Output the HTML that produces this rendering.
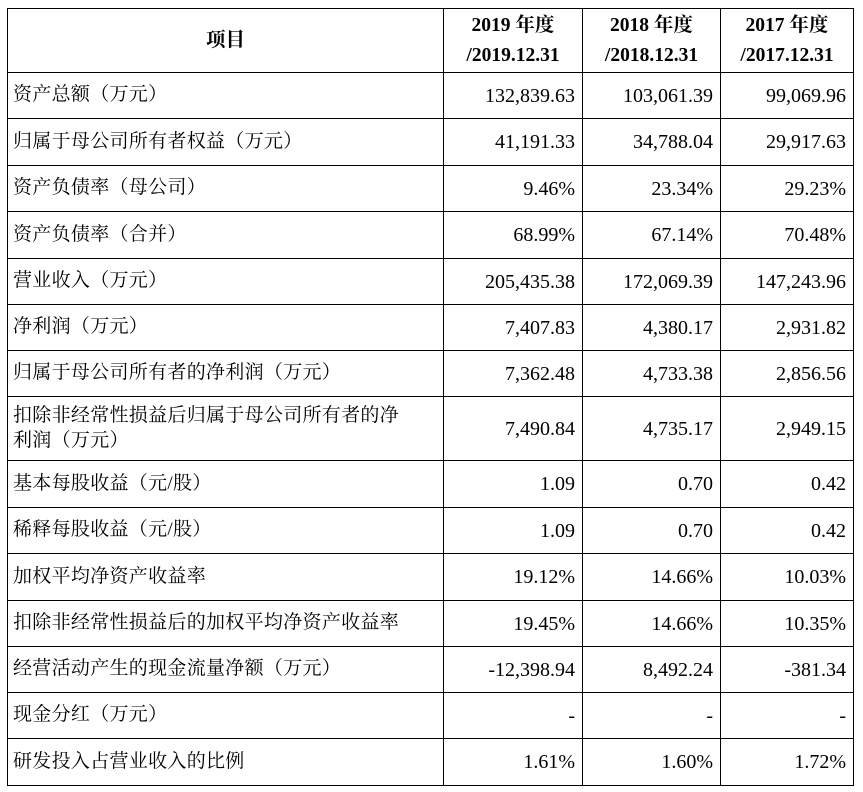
<!DOCTYPE html>
<html><head><meta charset="utf-8"><style>
body{margin:0;background:#fff;width:863px;height:792px;overflow:hidden}
table{position:absolute;left:7px;top:8px;border-collapse:collapse;font-family:"Liberation Serif","Noto Serif CJK SC",serif;color:#000;table-layout:fixed}
td{border:1.5px solid #000;padding:0 7px 0 5px;font-size:20px;text-align:right;line-height:1.3}
td.l{text-align:left;font-size:19px;letter-spacing:0.3px}
th{border:1.5px solid #000;font-size:19.5px;font-weight:bold;line-height:30px;padding:0}
</style></head><body>
<table>
<colgroup><col style="width:436px"><col style="width:139px"><col style="width:138px"><col style="width:133px"></colgroup>
<tr style="height:64px"><th>项目</th><th>2019 年度<br>/2019.12.31</th><th>2018 年度<br>/2018.12.31</th><th>2017 年度<br>/2017.12.31</th></tr>
<tr style="height:46px"><td class="l">资产总额（万元）</td><td>132,839.63</td><td>103,061.39</td><td>99,069.96</td></tr>
<tr style="height:47px"><td class="l">归属于母公司所有者权益（万元）</td><td>41,191.33</td><td>34,788.04</td><td>29,917.63</td></tr>
<tr style="height:46px"><td class="l">资产负债率（母公司）</td><td>9.46%</td><td>23.34%</td><td>29.23%</td></tr>
<tr style="height:47px"><td class="l">资产负债率（合并）</td><td>68.99%</td><td>67.14%</td><td>70.48%</td></tr>
<tr style="height:46px"><td class="l">营业收入（万元）</td><td>205,435.38</td><td>172,069.39</td><td>147,243.96</td></tr>
<tr style="height:46px"><td class="l">净利润（万元）</td><td>7,407.83</td><td>4,380.17</td><td>2,931.82</td></tr>
<tr style="height:46px"><td class="l">归属于母公司所有者的净利润（万元）</td><td>7,362.48</td><td>4,733.38</td><td>2,856.56</td></tr>
<tr style="height:64px"><td class="l">扣除非经常性损益后归属于母公司所有者的净<br>利润（万元）</td><td>7,490.84</td><td>4,735.17</td><td>2,949.15</td></tr>
<tr style="height:47px"><td class="l">基本每股收益（元/股）</td><td>1.09</td><td>0.70</td><td>0.42</td></tr>
<tr style="height:46px"><td class="l">稀释每股收益（元/股）</td><td>1.09</td><td>0.70</td><td>0.42</td></tr>
<tr style="height:47px"><td class="l">加权平均净资产收益率</td><td>19.12%</td><td>14.66%</td><td>10.03%</td></tr>
<tr style="height:46px"><td class="l">扣除非经常性损益后的加权平均净资产收益率</td><td>19.45%</td><td>14.66%</td><td>10.35%</td></tr>
<tr style="height:46px"><td class="l">经营活动产生的现金流量净额（万元）</td><td>-12,398.94</td><td>8,492.24</td><td>-381.34</td></tr>
<tr style="height:46px"><td class="l">现金分红（万元）</td><td>-</td><td>-</td><td>-</td></tr>
<tr style="height:47px"><td class="l">研发投入占营业收入的比例</td><td>1.61%</td><td>1.60%</td><td>1.72%</td></tr>
</table>
</body></html>
